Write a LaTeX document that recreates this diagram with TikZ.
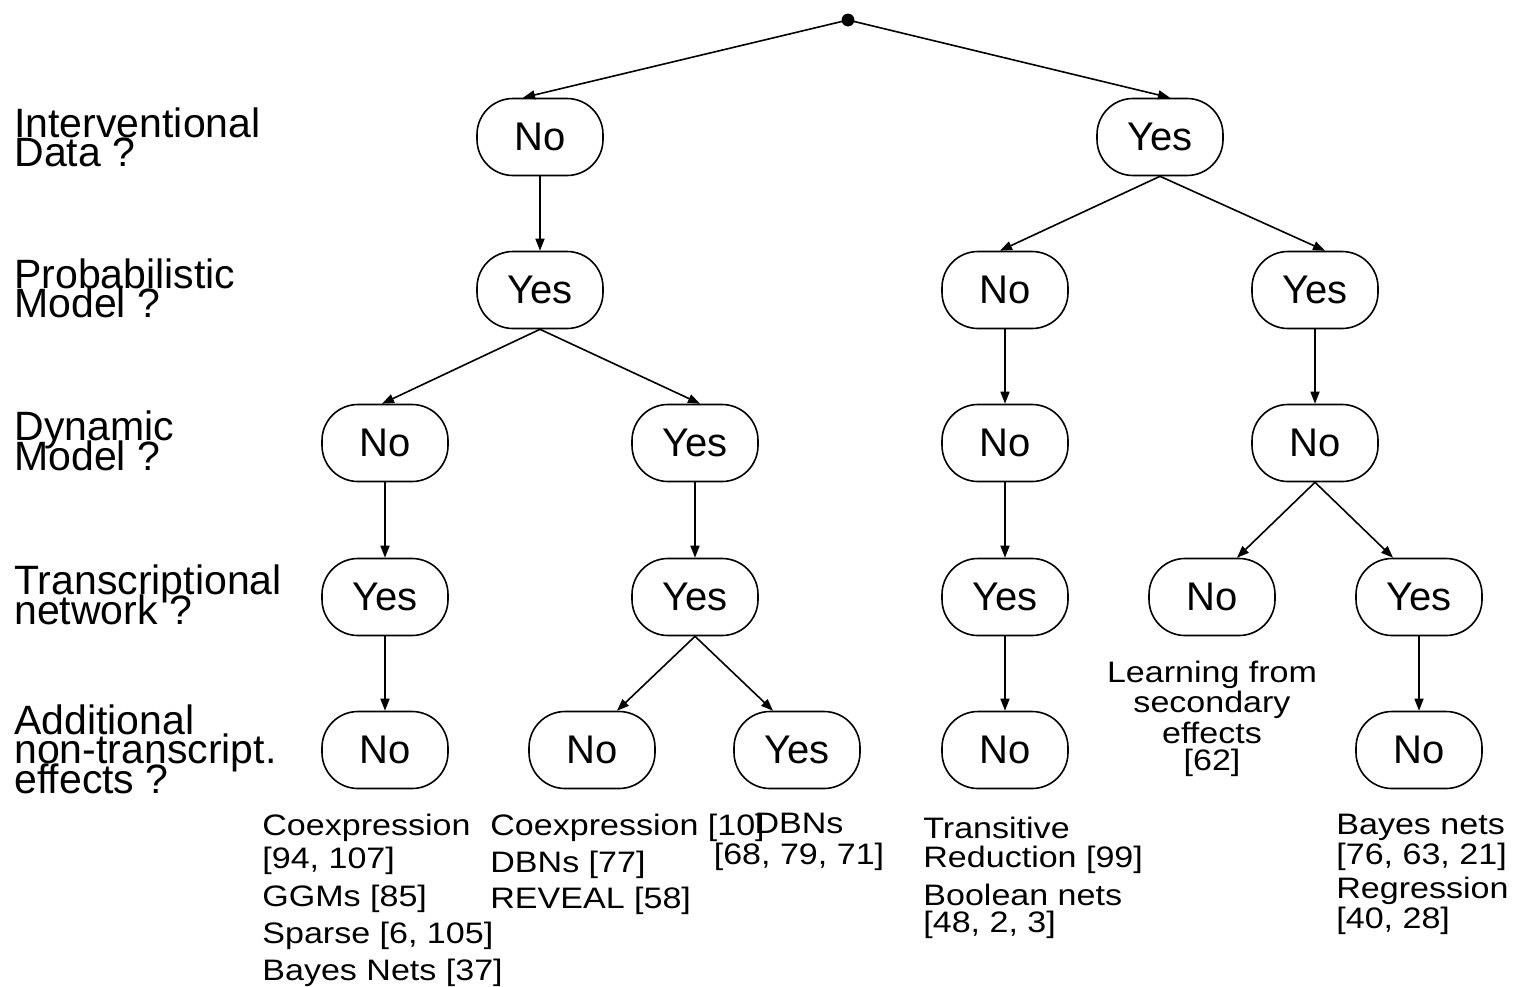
\documentclass[tikz,border=0pt]{standalone}
\usepackage{fontspec}
\setmainfont{Liberation Sans}
\newfontfamily\reffont[FakeStretch=1.15]{Liberation Sans}
\usetikzlibrary{arrows.meta}

\tikzset{
  choice/.style={draw, line width=0.8pt, rounded corners=18pt,
    minimum width=63pt, minimum height=38.5pt, inner sep=0pt,
    font=\fontsize{20}{24}\selectfont},
  qlabel/.style={anchor=base west, inner sep=0pt,
    font=\fontsize{20.5}{24}\selectfont},
  ref/.style={anchor=base west, inner sep=0pt,
    font=\reffont\fontsize{14.8}{18}\selectfont},
  refc/.style={ref, anchor=base},
  link/.style={line width=0.8pt, -{Triangle[length=6pt,width=4.5pt]}},
}

\begin{document}
\begin{tikzpicture}[x=0.5pt, y=-0.5pt]
\useasboundingbox (0,0) rectangle (1514,986);

% root
\fill (848,20) circle (3.2pt);
\coordinate (root) at (848,20);

% question labels
\node[qlabel] (q1a) at (14,137) {Interventional};
\node[qlabel] (q1b) at (14,166) {Data ?};
\node[qlabel] (q2a) at (14,288) {Probabilistic};
\node[qlabel] (q2b) at (14,317) {Model ?};
\node[qlabel] (q3a) at (14,440) {Dynamic};
\node[qlabel] (q3b) at (14,470) {Model ?};
\node[qlabel] (q4a) at (14,594) {Transcriptional};
\node[qlabel] (q4b) at (14,624) {network ?};
\node[qlabel] (q5a) at (14,734) {Additional};
\node[qlabel] (q5b) at (14,763) {non-transcript.};
\node[qlabel] (q5c) at (14,793) {effects ?};

% level 1
\node[choice] (a1) at (540,137) {No};
\node[choice] (a2) at (1160,137) {Yes};
% level 2
\node[choice] (b1) at (540,290) {Yes};
\node[choice] (b2) at (1005,290) {No};
\node[choice] (b3) at (1315,290) {Yes};
% level 3
\node[choice] (c1) at (385,443) {No};
\node[choice] (c2) at (695,443) {Yes};
\node[choice] (c3) at (1005,443) {No};
\node[choice] (c4) at (1315,443) {No};
% level 4
\node[choice] (d1) at (385,597) {Yes};
\node[choice] (d2) at (695,597) {Yes};
\node[choice] (d3) at (1005,597) {Yes};
\node[choice] (d4) at (1212,597) {No};
\node[choice] (d5) at (1419,597) {Yes};
% level 5
\node[choice] (e1) at (385,750) {No};
\node[choice] (e2) at (592,750) {No};
\node[choice] (e3) at (797,750) {Yes};
\node[choice] (e4) at (1005,750) {No};
\node[choice] (e5) at (1419,750) {No};

% connectors
\draw[link] (root) -- ([xshift=-8.5pt]a1.north);
\draw[link] (root) -- ([xshift=5pt]a2.north);
\draw[link] (a1.south) -- (b1.north);
\draw[link] (a2.south) -- ([xshift=-2.5pt]b2.north);
\draw[link] (a2.south) -- ([xshift=5pt]b3.north);
\draw[link] (b1.south) -- ([xshift=-1.5pt]c1.north);
\draw[link] (b1.south) -- ([xshift=2.5pt]c2.north);
\draw[link] (b2.south) -- (c3.north);
\draw[link] (b3.south) -- (c4.north);
\draw[link] (c1.south) -- (d1.north);
\draw[link] (c2.south) -- (d2.north);
\draw[link] (c3.south) -- (d3.north);
\draw[link] (c4.south) -- ([xshift=12.5pt]d4.north);
\draw[link] (c4.south) -- ([xshift=-13pt]d5.north);
\draw[link] (d1.south) -- (e1.north);
\draw[link] (d2.south) -- ([xshift=12.5pt]e2.north);
\draw[link] (d2.south) -- ([xshift=-12pt]e3.north);
\draw[link] (d3.south) -- (e4.north);
\draw[link] (d5.south) -- (e5.north);

% method references
\node[ref] (r1a) at (262,835) {Coexpression};
\node[ref] (r1b) at (262,868) {[94, 107]};
\node[ref] (r1c) at (262,906) {GGMs [85]};
\node[ref] (r1d) at (262,943) {Sparse [6, 105]};
\node[ref] (r1e) at (262,980) {Bayes Nets [37]};

\node[ref] (r2a) at (490,835) {Coexpression [10]};
\node[ref] (r2b) at (490,872) {DBNs [77]};
\node[ref] (r2c) at (490,908) {REVEAL [58]};

\node[refc] (r3a) at (799,833) {DBNs};
\node[refc] (r3b) at (799,864) {[68, 79, 71]};

\node[ref] (r4a) at (923,838) {Transitive};
\node[ref] (r4b) at (923,867) {Reduction [99]};
\node[ref] (r4c) at (923,905) {Boolean nets};
\node[ref] (r4d) at (923,932) {[48, 2, 3]};

\node[refc] (r5a) at (1212,682) {Learning from};
\node[refc] (r5b) at (1212,712) {secondary};
\node[refc] (r5c) at (1212,743) {effects};
\node[refc] (r5d) at (1212,770) {[62]};

\node[ref] (r6a) at (1336,834) {Bayes nets};
\node[ref] (r6b) at (1336,864) {[76, 63, 21]};
\node[ref] (r6c) at (1336,898) {Regression};
\node[ref] (r6d) at (1336,928) {[40, 28]};
\end{tikzpicture}
\end{document}
